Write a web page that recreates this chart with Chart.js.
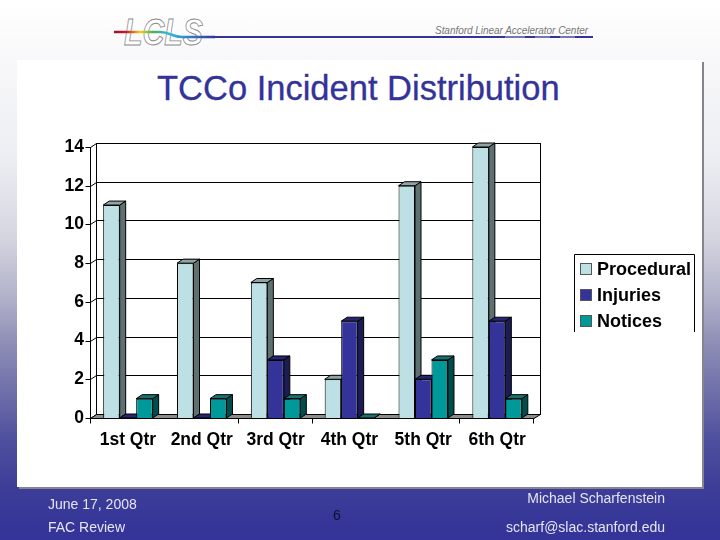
<!DOCTYPE html>
<html>
<head>
<meta charset="utf-8">
<style>
  html, body { margin: 0; padding: 0; }
  body {
    position: relative; width: 720px; height: 540px; overflow: hidden;
    font-family: "Liberation Sans", sans-serif;
    background: linear-gradient(to bottom, #ffffff 0%, #f8f8fa 11%, #ecedf2 30%, #d5d5e0 44%, #aeaec8 56%, #9090b8 63%, #6a6aa8 74%, #50509f 81%, #3c3c98 91%, #333399 100%);
  }
  .panel { position: absolute; left: 17px; top: 60px; width: 685px; height: 427px; background: #fff; box-shadow: 2px 2px 0 #85858f; }
  .abs { position: absolute; white-space: nowrap; }
  #title { left: 157px; top: 69px; font-size: 34.5px; line-height: 38px; color: #333399; font-weight: normal; margin: 0; -webkit-text-stroke: 0.3px #333399; }
  .foot { font-size: 14px; line-height: 16px; color: #e4e4f2; }
  canvas { position: absolute; left: 0; top: 0; }
  svg { position: absolute; left: 0; top: 0; }
</style>
</head>
<body>
<div class="panel"></div>
<svg width="720" height="60">
  <defs>
    <linearGradient id="rainbow" x1="0" x2="1" y1="0" y2="0">
      <stop offset="0" stop-color="#a01030"/>
      <stop offset="0.12" stop-color="#c01830"/>
      <stop offset="0.26" stop-color="#f0d020"/>
      <stop offset="0.38" stop-color="#50b050"/>
      <stop offset="0.56" stop-color="#30b8e0"/>
      <stop offset="1" stop-color="#333399"/>
    </linearGradient>
  </defs>
  <text x="124" y="45" font-family="Liberation Sans" font-style="italic" font-weight="bold" font-size="37" textLength="79" lengthAdjust="spacingAndGlyphs" fill="#fff" stroke="#8a8a8a" stroke-width="0.9">LCLS</text>
  <path d="M178 37 H593" stroke="#333399" stroke-width="2"/>
  <path d="M114 32 H160 C170 32 172 37 182 37 H215" fill="none" stroke="url(#rainbow)" stroke-width="2.5"/>
  <path d="M505 37 H525 M535 37 H550 M560 37 H575" stroke="#b8b8d8" stroke-width="1"/>
  <text x="435" y="34" font-family="Liberation Sans" font-style="italic" font-size="10" textLength="153" fill="#777">Stanford Linear Accelerator Center</text>
</svg>
<h1 id="title" class="abs">TCCo Incident Distribution</h1>
<canvas id="incidentChart" width="720" height="540"></canvas>
<div class="abs foot" style="left:48px;top:496px">June 17, 2008</div>
<div class="abs foot" style="left:48px;top:519px">FAC Review</div>
<div class="abs foot" style="left:333px;top:507px;color:#10102c">6</div>
<div class="abs foot" style="right:55px;top:490px">Michael Scharfenstein</div>
<div class="abs foot" style="right:55px;top:519px">scharf@slac.stanford.edu</div>

<script src="https://cdn.jsdelivr.net/npm/chart.js@4"></script>
<script>
const quarters = ['1st Qtr', '2nd Qtr', '3rd Qtr', '4th Qtr', '5th Qtr', '6th Qtr'];
const procedural = [11, 8, 7, 2, 12, 14];
const injuries = [0, 0, 3, 5, 2, 5];
const notices = [1, 1, 1, 0, 3, 1];
const yTicks = [0, 2, 4, 6, 8, 10, 12, 14];

// front, side and top colours of each series
const faces = [
  { front: '#bce0e4', side: '#5f7070', top: '#8fa5a5' },
  { front: '#333399', side: '#1c1c55', top: '#262673' },
  { front: '#009999', side: '#004d4d', top: '#1a7070' }
];
const depthX = 6;
const depthY = 4;

function poly(ctx, pts, fill) {
  ctx.beginPath();
  pts.forEach((p, i) => i ? ctx.lineTo(p[0], p[1]) : ctx.moveTo(p[0], p[1]));
  ctx.closePath();
  if (fill) {
    ctx.fillStyle = fill;
    ctx.fill();
  }
  ctx.stroke();
}

// back wall, floor, grid lines and the fake depth of the bars
const box3d = {
  id: 'box3d',
  beforeDatasetsDraw(chart) {
    const ctx = chart.ctx;
    const area = chart.chartArea;
    const y = chart.scales.y;
    const x = chart.scales.x;
    const front = area.left - 0.5;
    const back = front + depthX;
    const backRight = area.right + depthX + 0.5;
    ctx.save();
    ctx.strokeStyle = '#000';
    ctx.lineWidth = 1;

    // wall
    ctx.strokeRect(back, area.top - depthY + 0.5, backRight - back, area.bottom - area.top);
    // left side of the wall and tick marks
    ctx.beginPath();
    ctx.moveTo(front, area.top);
    ctx.lineTo(front, area.bottom);
    yTicks.forEach(v => {
      const py = Math.round(y.getPixelForValue(v)) + 0.5;
      ctx.moveTo(front - 5, py);
      ctx.lineTo(front, py);
      ctx.lineTo(back, py - depthY);
      ctx.lineTo(backRight, py - depthY);
    });
    ctx.stroke();

    // floor
    const by = Math.round(area.bottom) + 0.5;
    poly(ctx, [[front, by], [area.right, by], [backRight, by - depthY], [back, by - depthY]], '#8c8c8c');

    // bottom tick marks, the ones at 1 and 4 don't show in the original
    const step = x.getPixelForTick(1) - x.getPixelForTick(0);
    ctx.beginPath();
    for (let i = 0; i <= quarters.length; i++) {
      if (i === 1 || i === 4) continue;
      const px = Math.round(area.left + i * step) - 0.5;
      ctx.moveTo(px, by);
      ctx.lineTo(px, by + 5);
    }
    ctx.stroke();

    // side and top of each bar, left to right so the later ones cover
    chart.data.datasets.forEach((ds, d) => {
      chart.getDatasetMeta(d).data.forEach(bar => {
        const l = bar.x - bar.width / 2;
        const r = bar.x + bar.width / 2;
        const t = bar.y;
        const b = bar.base;
        poly(ctx, [[r, t], [r + depthX, t - depthY], [r + depthX, b - depthY], [r, b]], faces[d].side);
        poly(ctx, [[l, t], [l + depthX, t - depthY], [r + depthX, t - depthY], [r, t]], faces[d].top);
      });
    });
    ctx.restore();
  },
  afterDraw(chart) {
    // legend box, the original is cut off at the bottom
    const ctx = chart.ctx;
    ctx.save();
    ctx.strokeStyle = '#000';
    ctx.lineWidth = 1;
    ctx.beginPath();
    ctx.moveTo(574.5, 332);
    ctx.lineTo(574.5, 254.5);
    ctx.lineTo(694.5, 254.5);
    ctx.lineTo(694.5, 332);
    ctx.stroke();
    ctx.font = 'bold 18px "Liberation Sans"';
    ctx.textBaseline = 'middle';
    chart.data.datasets.forEach((ds, d) => {
      const ly = 269 + d * 26;
      ctx.fillStyle = faces[d].front;
      ctx.fillRect(580.5, ly - 5.5, 11, 11);
      ctx.strokeStyle = '#555';
      ctx.strokeRect(580.5, ly - 5.5, 11, 11);
      ctx.fillStyle = '#000';
      ctx.fillText(ds.label, 597, ly + 1);
    });
    ctx.restore();
  }
};

function dataset(label, values, i) {
  return {
    label: label,
    data: values,
    backgroundColor: faces[i].front,
    borderColor: '#000',
    borderWidth: 1,
    barPercentage: 1,
    categoryPercentage: 0.67
  };
}

new Chart(document.getElementById('incidentChart'), {
  type: 'bar',
  data: {
    labels: quarters,
    datasets: [
      dataset('Procedural', procedural, 0),
      dataset('Injuries', injuries, 1),
      dataset('Notices', notices, 2)
    ]
  },
  plugins: [box3d],
  options: {
    responsive: false,
    animation: false,
    devicePixelRatio: 1,
    layout: { padding: { top: 147, right: 186, left: 0, bottom: 0 } },
    plugins: { legend: { display: false }, tooltip: { enabled: false } },
    scales: {
      x: {
        grid: { display: false, tickLength: 6 },
        border: { display: false },
        afterFit: s => { s.height = 122; },
        ticks: { color: '#000', padding: 6, maxRotation: 0, font: { family: 'Liberation Sans', size: 17.5, weight: 'bold' } }
      },
      y: {
        min: 0,
        max: 14,
        grid: { display: false, tickLength: 7 },
        border: { display: false },
        afterFit: s => { s.width = 91; },
        afterBuildTicks: s => { s.ticks = yTicks.map(v => ({ value: v })); },
        ticks: { color: '#000', padding: 0, font: { family: 'Liberation Sans', size: 17.5, weight: 'bold' } }
      }
    }
  }
});
</script>
</body>
</html>
